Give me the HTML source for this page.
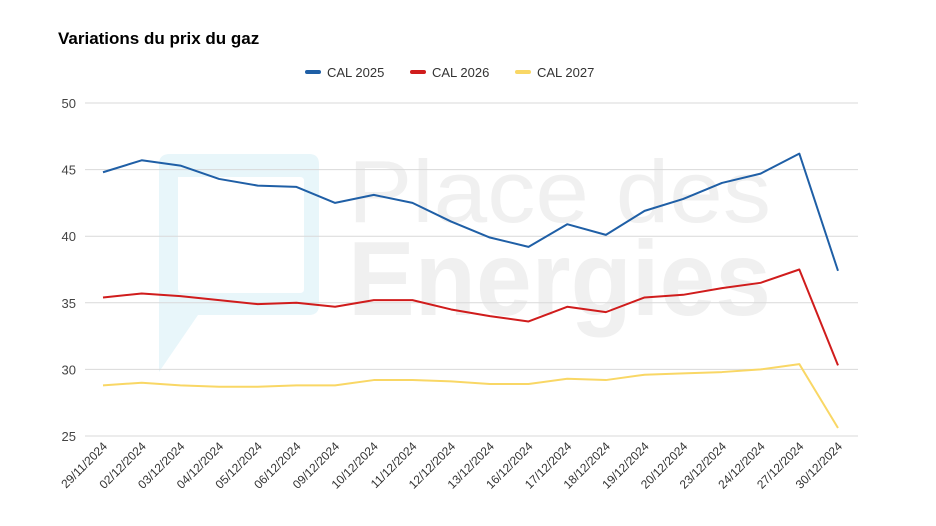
<!DOCTYPE html>
<html><head><meta charset="utf-8">
<style>
body{margin:0;background:#fff;font-family:"Liberation Sans",sans-serif;}
svg{display:block}
</style></head>
<body>
<svg id="chart" width="936" height="526">
  <text x="58" y="44" font-size="17" font-weight="bold" fill="#000">Variations du prix du gaz</text>
  <g>
    <path d="M170 154 L309 154 Q319 154 319 164 L319 305 Q319 315 309 315 L198 315 L159 372 L159 164 Q159 154 170 154Z" fill="#e8f6fa"/>
    <path d="M178 177 L300 177 Q304 177 304 181 L304 289 Q304 293 300 293 L182 293 Q178 293 178 289 Z" fill="#fff"/>
    <text x="348" y="222" font-size="88" fill="#f0f0f0" textLength="423" lengthAdjust="spacingAndGlyphs">Place des</text>
    <text x="348" y="315" font-size="106" font-weight="bold" fill="#f0f0f0" textLength="423" lengthAdjust="spacingAndGlyphs">Energies</text>
  </g>
  <g id="grid"></g>
  <g id="series"></g>
  <g id="legend"></g>
</svg>
<script>
const categories=["29/11/2024","02/12/2024","03/12/2024","04/12/2024","05/12/2024","06/12/2024","09/12/2024","10/12/2024","11/12/2024","12/12/2024","13/12/2024","16/12/2024","17/12/2024","18/12/2024","19/12/2024","20/12/2024","23/12/2024","24/12/2024","27/12/2024","30/12/2024"];
const cal2025=[44.8,45.7,45.3,44.3,43.8,43.7,42.5,43.1,42.5,41.1,39.9,39.2,40.9,40.1,41.9,42.8,44.0,44.7,46.2,37.4];
const cal2026=[35.4,35.7,35.5,35.2,34.9,35.0,34.7,35.2,35.2,34.5,34.0,33.6,34.7,34.3,35.4,35.6,36.1,36.5,37.5,30.3];
const cal2027=[28.8,29.0,28.8,28.7,28.7,28.8,28.8,29.2,29.2,29.1,28.9,28.9,29.3,29.2,29.6,29.7,29.8,30.0,30.4,25.6];
const yTicks=[25,30,35,40,45,50];
const seriesNames=["CAL 2025","CAL 2026","CAL 2027"];
const seriesColors=["#1f5fa6","#d01c1c","#f9d765"];

const NS="http://www.w3.org/2000/svg";
const X0=103,X1=838,Y0=436,Y1=103,ymin=25,ymax=50;
const xs=i=>X0+(X1-X0)*i/(categories.length-1);
const ys=v=>Y0-(v-ymin)/(ymax-ymin)*(Y0-Y1);
function mk(tag,attrs,parent){const e=document.createElementNS(NS,tag);for(const k in attrs)e.setAttribute(k,attrs[k]);parent.appendChild(e);return e;}
const grid=document.getElementById('grid');
yTicks.forEach(t=>{
  const l=mk('line',{x1:85,x2:858,y1:ys(t),y2:ys(t),stroke:'#d9d9d9','stroke-width':1},grid);
  
  
  const tx=mk('text',{x:76,y:ys(t)+5,'text-anchor':'end','font-size':13,fill:'#444'},grid);
  tx.textContent=t;
  
  
});
categories.forEach((c,i)=>{
  const x=xs(i)+5,y=447;
  const tx=mk('text',{x:x,y:y,'text-anchor':'end','font-size':12,fill:'#333',transform:`rotate(-45 ${x} ${y})`},grid);
  tx.textContent=c;
  
  
});
const sg=document.getElementById('series');
[cal2025,cal2026,cal2027].forEach((d,k)=>{
  const p=mk('polyline',{points:d.map((v,i)=>xs(i)+','+ys(v)).join(' '),fill:'none',stroke:seriesColors[k],'stroke-width':2,'stroke-linejoin':'round'},sg);
  
  
});
const lg=document.getElementById('legend');
const lx=[307,412,517];
seriesNames.forEach((n,k)=>{
  const g=mk('g',{},lg);
  
  
  mk('line',{x1:lx[k],x2:lx[k]+12,y1:72,y2:72,stroke:seriesColors[k],'stroke-width':4,'stroke-linecap':'round'},g);
  const t=mk('text',{x:lx[k]+20,y:77,'font-size':13,fill:'#333'},g);
  t.textContent=n;
});
</script>
</body></html>
